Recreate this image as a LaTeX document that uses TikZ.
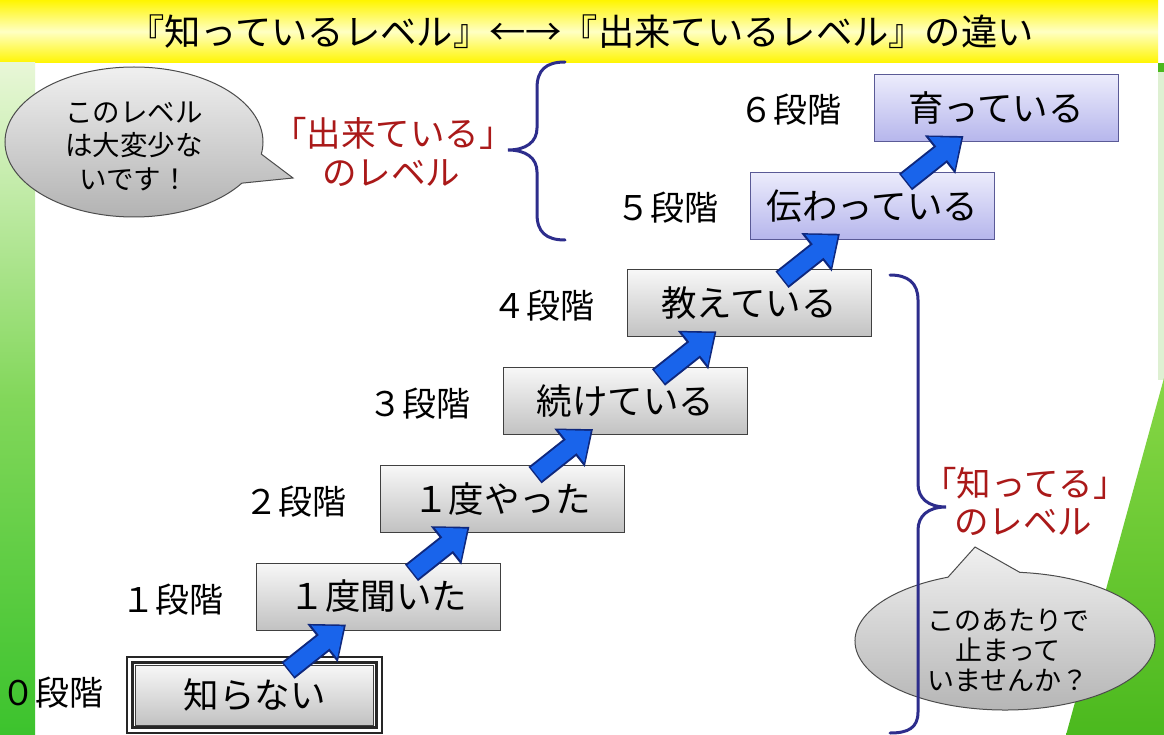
\documentclass[tikz,border=0pt]{standalone}
\usepackage{fontspec}
\setmainfont{Noto Sans CJK JP}
\usetikzlibrary{shapes.callouts,arrows.meta,calc}
\definecolor{navy}{RGB}{45,45,140}
\definecolor{darkred}{RGB}{170,25,25}
\definecolor{arrblue}{RGB}{25,100,235}
\definecolor{arrdark}{RGB}{15,40,125}
\definecolor{lav1}{RGB}{236,236,252}
\definecolor{lav2}{RGB}{182,182,236}
\definecolor{lavedge}{RGB}{90,90,150}
\definecolor{ylw}{RGB}{255,245,0}
\definecolor{ylwl}{RGB}{255,255,195}
\definecolor{grn1}{RGB}{232,247,215}
\definecolor{grnm}{RGB}{130,215,90}
\definecolor{grn2}{RGB}{60,195,45}
\definecolor{grnr1}{RGB}{135,215,70}
\definecolor{grnr2}{RGB}{75,185,30}
\definecolor{grnthin}{RGB}{222,240,210}
\newcommand\setfs[1]{\fontsize{#1}{#1}\selectfont}
\newcommand\setfsb[2]{\fontsize{#1}{#2}\selectfont}
\tikzset{
  stepbox/.style={draw=black!75, line width=1pt, top color=black!3, bottom color=black!24,
    minimum width=244pt, minimum height=67pt, inner sep=0pt, font=\setfs{35.5}},
  bluebox/.style={stepbox, draw=lavedge, top color=lav1, bottom color=lav2},
  steplabel/.style={font=\setfs{34}, inner sep=0pt},
  redtext/.style={text=darkred, font=\setfs{34.5}, inner sep=0pt},
  bubble/.style={ellipse callout, draw=black!70, line width=1pt, top color=black!6,
    bottom color=black!30, inner sep=0pt},
  bubbletext/.style={inner sep=0pt, align=center},
  bracestyle/.style={draw=navy, line width=3pt, line cap=round},
  arrowout/.style={draw=arrdark, line width=21pt, -{Triangle[length=30pt,width=47pt]}},
  arrowin/.style={draw=arrblue, line width=17pt, shorten >=2.8pt, shorten <=1.5pt,
    -{Triangle[length=25pt,width=40pt]}}
}
\begin{document}
\begin{tikzpicture}[x=1pt,y=-1pt]
\useasboundingbox (0,0) rectangle (1164,735);
\fill[white] (0,0) rectangle (1164,735);
% backgrounds
\shade[top color=ylw, bottom color=ylw, middle color=ylwl] (0,0) rectangle (1158,63);
\shade[top color=grn1, bottom color=grn2, middle color=grnm] (0,63) rectangle (35,735);
\fill[grnthin] (1158,63) rectangle (1164,380);
\fill[grnr2] (1158,63) rectangle (1164,72);
\shade[top color=grnr1, bottom color=grnr2] (1164,378) -- (1164,735) -- (1066,735) -- cycle;
% title
\node[font=\setfs{36.3}, inner sep=0pt] (title) at (581,32) {『知っているレベル』←→『出来ているレベル』の違い};
% step 0 frame
\draw[line width=1.2pt, black!85] (127,657) rectangle (382,733);
\draw[line width=2.5pt, black!85] (132.5,662.5) rectangle (376.5,727.5);
\node[stepbox, minimum width=238pt, minimum height=60pt, line width=0.6pt] (b0) at (254.5,695) {知らない};
% boxes
\node[stepbox] (b1) at (378.5,596.5) {１度聞いた};
\node[stepbox] (b2) at (502,498.8) {１度やった};
\node[stepbox] (b3) at (625.5,401.1) {続けている};
\node[stepbox] (b4) at (749,303.4) {教えている};
\node[bluebox] (b5) at (872.5,205.7) {伝わっている};
\node[bluebox] (b6) at (996,108) {育っている};
% arrows
\foreach \i in {1,...,6}{
  \coordinate (t\i) at ($(b\i.south west)+(32,40)$);
  \coordinate (h\i) at ($(b\i.south west)+(90,-6)$);
  \draw[arrowout] (t\i) -- (h\i);
  \draw[arrowin] (t\i) -- (h\i);
}
% step labels
\node[steplabel, anchor=west] (l0) at (1,693) {０段階};
\node[steplabel] (l1) at (172,600) {１段階};
\node[steplabel] (l2) at (295.5,502) {２段階};
\node[steplabel] (l3) at (419,404) {３段階};
\node[steplabel] (l4) at (543,306) {４段階};
\node[steplabel] (l5) at (667,208) {５段階};
\node[steplabel] (l6) at (790,110) {６段階};
% bubbles
\node[bubble, minimum width=258pt, minimum height=150pt, callout pointer arc=24,
  callout absolute pointer={(293,178)}] (bub1) at (134,142) {};
\node[bubbletext, font=\setfsb{27.5}{33.5}] (bub1t) at ($(bub1.center)+(0,4)$)
  {このレベル\\は大変少な\\いです！};
\node[bubble, minimum width=300pt, minimum height=138pt, callout pointer arc=28,
  callout absolute pointer={(975,547)}] (bub2) at (1005,641) {};
\node[bubbletext, font=\setfsb{27}{30}] (bub2t) at ($(bub2.center)+(3,9)$)
  {このあたりで\\止まって\\いませんか？};
% braces
\draw[bracestyle] (565,62) .. controls (546,62) and (537,70) .. (537,88) -- (537,128)
  .. controls (537,142) and (526,150) .. (508,150)
  .. controls (526,150) and (537,158) .. (537,172) -- (537,214)
  .. controls (537,232) and (546,240) .. (565,240);
\draw[bracestyle] (890,275) .. controls (908,275) and (918,283) .. (918,300) -- (918,484)
  .. controls (918,498) and (928,507) .. (946,507)
  .. controls (928,507) and (918,516) .. (918,530) -- (918,712)
  .. controls (918,728) and (908,733) .. (890,733);
% red texts
\node[redtext] (r1a) at (393,133) {「出来ている」};
\node[redtext] (r1b) at (391,173) {のレベル};
\node[redtext] (r2a) at (1025,483) {「知ってる」};
\node[redtext] (r2b) at (1023,522) {のレベル};
\end{tikzpicture}
\end{document}
